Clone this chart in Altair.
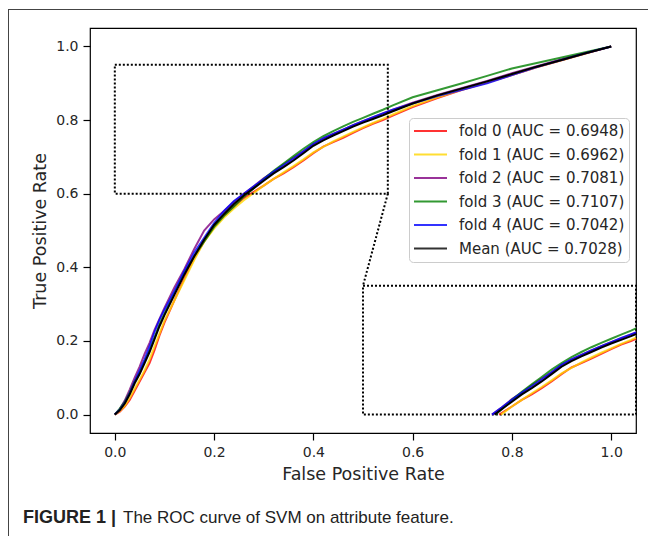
import altair as alt
import pandas as pd

# ---------------- data ----------------
fpr = [0.0, 0.01, 0.02, 0.03, 0.04, 0.05, 0.06, 0.07, 0.08, 0.09, 0.10, 0.12, 0.14,
       0.16, 0.18, 0.20, 0.22, 0.24, 0.26, 0.28, 0.30, 0.32, 0.34, 0.36, 0.38, 0.40,
       0.42, 0.44, 0.46, 0.48, 0.50, 0.52, 0.54, 0.56, 0.60, 0.65, 0.70, 0.75, 0.80,
       0.85, 0.90, 0.95, 1.0]

tpr_fold0 = [0.0, 0.008, 0.022, 0.04, 0.065, 0.09, 0.115, 0.14, 0.175, 0.215, 0.25, 0.31, 0.37,
             0.425, 0.47, 0.51, 0.54, 0.565, 0.588, 0.605, 0.622, 0.64, 0.655, 0.672, 0.69, 0.71,
             0.728, 0.74, 0.752, 0.765, 0.778, 0.79, 0.80, 0.812, 0.835, 0.86, 0.882, 0.902, 0.922,
             0.943, 0.962, 0.981, 1.0]
tpr_fold1 = [0.0, 0.01, 0.024, 0.045, 0.07, 0.095, 0.12, 0.15, 0.185, 0.22, 0.255, 0.31, 0.365,
             0.42, 0.47, 0.505, 0.535, 0.56, 0.582, 0.602, 0.622, 0.64, 0.658, 0.675, 0.693, 0.712,
             0.727, 0.742, 0.755, 0.768, 0.78, 0.792, 0.803, 0.815, 0.838, 0.862, 0.883, 0.903, 0.923,
             0.944, 0.962, 0.981, 1.0]
tpr_fold2 = [0.0, 0.015, 0.038, 0.068, 0.10, 0.13, 0.165, 0.195, 0.23, 0.26, 0.29, 0.345, 0.395,
             0.45, 0.50, 0.53, 0.553, 0.578, 0.60, 0.62, 0.642, 0.66, 0.68, 0.698, 0.715, 0.735,
             0.75, 0.762, 0.774, 0.786, 0.797, 0.807, 0.818, 0.828, 0.847, 0.868, 0.887, 0.906, 0.927,
             0.946, 0.965, 0.983, 1.0]
tpr_fold3 = [0.0, 0.016, 0.035, 0.06, 0.09, 0.115, 0.145, 0.175, 0.21, 0.245, 0.275, 0.33, 0.385,
             0.43, 0.47, 0.51, 0.54, 0.565, 0.592, 0.615, 0.64, 0.662, 0.682, 0.702, 0.722, 0.74,
             0.756, 0.77, 0.783, 0.795, 0.806, 0.817, 0.828, 0.84, 0.862, 0.881, 0.90, 0.92, 0.94,
             0.955, 0.97, 0.985, 1.0]
tpr_fold4 = [0.0, 0.013, 0.032, 0.058, 0.09, 0.12, 0.15, 0.185, 0.225, 0.258, 0.285, 0.335, 0.39,
             0.44, 0.48, 0.52, 0.553, 0.58, 0.60, 0.62, 0.64, 0.66, 0.677, 0.695, 0.715, 0.735,
             0.75, 0.762, 0.774, 0.786, 0.797, 0.808, 0.818, 0.828, 0.845, 0.865, 0.882, 0.90, 0.922,
             0.944, 0.963, 0.982, 1.0]
tpr_mean = [0.0, 0.012, 0.03, 0.055, 0.085, 0.11, 0.14, 0.17, 0.205, 0.24, 0.27, 0.325, 0.38,
            0.43, 0.475, 0.515, 0.545, 0.572, 0.595, 0.615, 0.635, 0.655, 0.672, 0.69, 0.71, 0.73,
            0.745, 0.758, 0.77, 0.782, 0.793, 0.803, 0.813, 0.824, 0.845, 0.867, 0.886, 0.905, 0.925,
            0.945, 0.963, 0.982, 1.0]

series_names = ["fold 0 (AUC = 0.6948)", "fold 1 (AUC = 0.6962)", "fold 2 (AUC = 0.7081)",
                "fold 3 (AUC = 0.7107)", "fold 4 (AUC = 0.7042)", "Mean (AUC = 0.7028)"]
series_tpr = [tpr_fold0, tpr_fold1, tpr_fold2, tpr_fold3, tpr_fold4, tpr_mean]
series_colors = ["#ff0000", "#ffd700", "#800080", "#008000", "#0000ff", "#000000"]
series_widths = [2, 2, 2, 2, 2, 3]

tick_values = [0.0, 0.2, 0.4, 0.6, 0.8, 1.0]
axis_domain = [-0.05, 1.05]

# zoom box (source region) and where it is redrawn (inset): [x0, x1, y0, y1]
zoom_src = [0.0, 0.55, 0.6, 0.95]
zoom_dst = [0.5, 1.05, 0.0, 0.35]

x_title = "False Positive Rate"
y_title = "True Positive Rate"
caption_bold = "FIGURE 1 |"
caption_text = "The ROC curve of SVM on attribute feature."


# ---------------- helpers ----------------
def clip_segment(xa, ya, xb, yb, x0, x1, y0, y1):
    dx, dy = xb - xa, yb - ya
    t0, t1 = 0.0, 1.0
    for p, q in ((-dx, xa - x0), (dx, x1 - xa), (-dy, ya - y0), (dy, y1 - ya)):
        if p == 0:
            if q < 0:
                return None
        else:
            r = q / p
            if p < 0:
                if r > t1:
                    return None
                t0 = max(t0, r)
            else:
                if r < t0:
                    return None
                t1 = min(t1, r)
    return (xa + t0 * dx, ya + t0 * dy), (xa + t1 * dx, ya + t1 * dy)


def clip_poly(xs, ys, box):
    out = []
    for i in range(len(xs) - 1):
        seg = clip_segment(xs[i], ys[i], xs[i + 1], ys[i + 1], *box)
        if seg is None:
            continue
        a, b = seg
        if not out or abs(out[-1][0] - a[0]) > 1e-12 or abs(out[-1][1] - a[1]) > 1e-12:
            out.append(a)
        out.append(b)
    return out


rows, inset_rows = [], []
dx = zoom_dst[0] - zoom_src[0]
dy = zoom_dst[2] - zoom_src[2]
for name, tpr in zip(series_names, series_tpr):
    for i, (f, t) in enumerate(zip(fpr, tpr)):
        rows.append({"series": name, "fpr": f, "tpr": t, "idx": i})
    for i, (f, t) in enumerate(clip_poly(fpr, tpr, zoom_src)):
        inset_rows.append({"series": name, "fpr": f + dx, "tpr": t + dy, "idx": i})

df = pd.DataFrame(rows)
inset_df = pd.DataFrame(inset_rows)

rect_df = pd.DataFrame({
    "x": [zoom_src[0], zoom_dst[0]], "x2": [zoom_src[1], zoom_dst[1]],
    "y": [zoom_src[2], zoom_dst[2]], "y2": [zoom_src[3], zoom_dst[3]],
})
conn_df = pd.DataFrame({"x": [zoom_src[1]], "y": [zoom_src[2]],
                        "x2": [zoom_dst[0]], "y2": [zoom_dst[3]]})

# ---------------- encodings ----------------
legend = alt.Legend(
    title=None, orient="none", legendX=319, legendY=90,
    padding=4, fillColor="white", strokeColor="#cccccc", cornerRadius=4,
    symbolType="stroke", symbolSize=1089, symbolStrokeWidth=2.2,
    clipHeight=18, rowPadding=5.5,
    labelFont="DejaVu Sans", labelFontSize=15, labelColor="#262626", labelOffset=11,
    labelLimit=400,
)
color_enc = alt.Color("series:N", scale=alt.Scale(domain=series_names, range=series_colors),
                      legend=legend)
width_enc = alt.StrokeWidth("series:N", scale=alt.Scale(domain=series_names, range=series_widths),
                            legend=legend)

x_enc = alt.X("fpr:Q", scale=alt.Scale(domain=axis_domain, nice=False, zero=False),
              axis=alt.Axis(title=x_title, values=tick_values, format=".1f", grid=False))
y_enc = alt.Y("tpr:Q", scale=alt.Scale(domain=axis_domain, nice=False, zero=False),
              axis=alt.Axis(title=y_title, values=tick_values, format=".1f", grid=False))

folds = series_names[:5]
mean_name = series_names[5]


def lines(data, names, opacity):
    return alt.Chart(data).transform_filter(
        alt.FieldOneOfPredicate(field="series", oneOf=names)
    ).mark_line(opacity=opacity).encode(
        x=x_enc, y=y_enc, color=color_enc, strokeWidth=width_enc, order="idx:Q",
        detail="series:N",
    )


main_folds = lines(df, folds, 0.8)
main_mean = lines(df, [mean_name], 1.0)
inset_folds = lines(inset_df, folds, 0.8)
inset_mean = lines(inset_df, [mean_name], 1.0)

rects = alt.Chart(rect_df).mark_rect(
    fill="transparent", stroke="black", strokeWidth=2, strokeDash=[2, 2]
).encode(x="x:Q", x2="x2", y="y:Q", y2="y2")

conn = alt.Chart(conn_df).mark_rule(
    color="black", strokeWidth=2, strokeDash=[2, 2]
).encode(x="x:Q", x2="x2", y="y:Q", y2="y2")

one = pd.DataFrame({"k": [0]})
border_left = alt.Chart(one).mark_rule(color="#444444", strokeWidth=1).encode(
    x=alt.value(-81.5), y=alt.value(-18.5), y2=alt.value(508))
border_top = alt.Chart(one).mark_rule(color="#444444", strokeWidth=1).encode(
    y=alt.value(-18.5), x=alt.value(-82), x2=alt.value(558))

cap1 = alt.Chart(pd.DataFrame({"t": [caption_bold]})).mark_text(
    align="left", baseline="alphabetic", font="Liberation Sans", fontSize=18,
    fontWeight="bold", color="#222222"
).encode(text="t:N", x=alt.value(-67), y=alt.value(495))
cap2 = alt.Chart(pd.DataFrame({"t": [caption_text]})).mark_text(
    align="left", baseline="alphabetic", font="Liberation Sans", fontSize=17,
    color="#222222"
).encode(text="t:N", x=alt.value(33), y=alt.value(495))

chart = alt.layer(
    main_folds, main_mean, rects, conn, inset_folds, inset_mean,
    border_left, border_top, cap1, cap2
).properties(
    width=546, height=405,
    padding={"left": 82, "top": 20, "right": 12, "bottom": 103},
    autosize=alt.AutoSizeParams(type="none"),
).configure_view(
    stroke="black", strokeWidth=1.2
).configure_axis(
    domain=False, tickColor="black", tickSize=7, tickWidth=1.2,
    labelFont="DejaVu Sans", labelFontSize=14, labelColor="#262626", labelPadding=5,
    titleFont="DejaVu Sans", titleFontSize=17.5, titleFontWeight="normal",
    titleColor="#262626", titlePadding=6,
)

chart.save("out.html", embed_options={"renderer": "svg", "actions": False})
